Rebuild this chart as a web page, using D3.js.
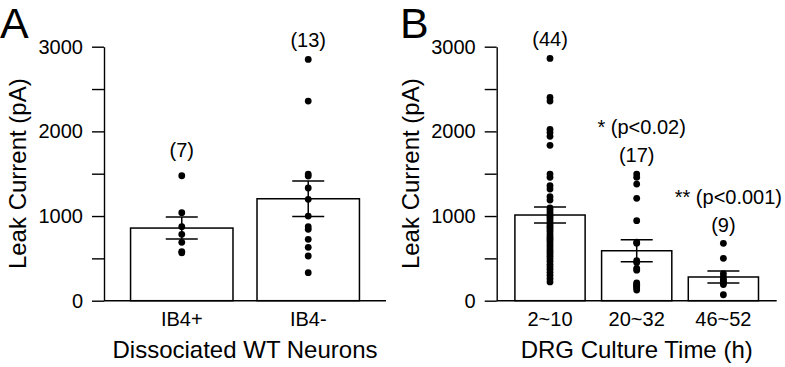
<!DOCTYPE html>
<html>
<head>
<meta charset="utf-8">
<script src="https://d3js.org/d3.v7.min.js"></script>
<style>
    body { margin: 0; background: #fff; }
    text { font-family: "Liberation Sans", Arial, sans-serif; fill: #000; }
</style>
</head>
<body>
<div id="chart"></div>
<script>
// ---- data ----
const groupsA = ["IB4+", "IB4-"];
const meansA = [858, 1204];
const semA = [130, 210];
const pointsA = [
    [1476, 1040, 874, 784, 690, 580, 565],
    [2850, 2358, 1496, 1472, 1331, 1197, 1000, 874, 843, 725, 630, 528, 331]
];

const groupsB = ["2~10", "20~32", "46~52"];
const meansB = [1012, 590, 280];
const semB = [95, 130, 70];
const pointsB = [
    [2862, 2400, 2358, 2024, 1988, 1941, 1835, 1496, 1457, 1358, 1319, 1228, 1189,
     1095, 1070, 1040, 1010, 985, 960, 930, 905, 880, 860, 835, 810, 780, 750, 725,
     700, 670, 640, 610, 585, 555, 525, 495, 465, 430, 400, 370, 335, 300, 260, 222],
    [1496, 1457, 1378, 1209, 945, 693, 680, 472, 450, 382, 360, 210, 195, 180, 165, 150, 125],
    [678, 500, 320, 280, 250, 230, 210, 190, 70]
];
const sigB = ["", "* (p<0.02)", "** (p<0.001)"];

const yTicks = [0, 500, 1000, 1500, 2000, 2500, 3000];

const svg = d3.select("#chart")
    .append("svg")
    .attr("width", 785)
    .attr("height", 367);

const y = d3.scaleLinear()
    .domain([0, 3000])
    .range([300.7, 46.7]);

function drawPanel(opts) {
    let g = svg.append("g");

    const x = d3.scaleBand()
        .domain(opts.groups)
        .range([opts.x0, opts.x1])
        .paddingInner(0.19)
        .paddingOuter(0.21);

    // bars
    g.selectAll(".bar")
        .data(opts.groups)
        .join("rect")
        .attr("x", d => x(d))
        .attr("y", (d, i) => y(opts.means[i]))
        .attr("width", x.bandwidth())
        .attr("height", (d, i) => y(0) - y(opts.means[i]))
        .attr("fill", "white")
        .attr("stroke", "black")
        .attr("stroke-width", 1.5);

    // error bars
    opts.groups.forEach((d, i) => {
        let cx = x(d) + x.bandwidth() / 2;
        let hi = y(opts.means[i] + opts.sem[i]), lo = y(opts.means[i] - opts.sem[i]);
        g.append("line").attr("x1", cx).attr("x2", cx).attr("y1", hi).attr("y2", lo)
            .attr("stroke", "black").attr("stroke-width", 1.5);
        [hi, lo].forEach(yy => {
            g.append("line").attr("x1", cx - 16).attr("x2", cx + 16).attr("y1", yy).attr("y2", yy)
                .attr("stroke", "black").attr("stroke-width", 1.5);
        });
    });

    // individual points
    opts.groups.forEach((d, i) => {
        let cx = x(d) + x.bandwidth() / 2;
        g.selectAll(null)
            .data(opts.points[i])
            .join("circle")
            .attr("cx", cx)
            .attr("cy", v => y(v))
            .attr("r", 3.4)
            .attr("fill", "black");

        // n label above top point
        let top = y(d3.max(opts.points[i])) - opts.lift[i];
        g.append("text")
            .attr("x", cx)
            .attr("y", top)
            .attr("text-anchor", "middle")
            .attr("font-size", 20)
            .text("(" + opts.points[i].length + ")");

        if (opts.sig && opts.sig[i]) {
            g.append("text")
                .attr("x", cx + 5)
                .attr("y", top - 28)
                .attr("text-anchor", "middle")
                .attr("font-size", 20)
                .text(opts.sig[i]);
        }
    });

    // y axis
    let yAxis = g.append("g")
        .attr("transform", `translate(${opts.x0},0)`)
        .call(d3.axisLeft(y)
            .tickValues(yTicks)
            .tickSize(12)
            .tickSizeOuter(0)
            .tickPadding(9)
            .tickFormat(d => d % 1000 === 0 ? d : ""));
    yAxis.selectAll("text").attr("font-size", 20).attr("font-family", "Liberation Sans, Arial, sans-serif");
    yAxis.selectAll("line, path").attr("stroke-width", 1.4);

    // x axis
    let xAxis = g.append("g")
        .attr("transform", `translate(0,${y(0)})`)
        .call(d3.axisBottom(x).tickSize(0).tickSizeOuter(0).tickPadding(11));
    xAxis.select(".domain").attr("d", `M${opts.x0},0H${opts.x1}`).attr("stroke-width", 1.4);
    xAxis.selectAll("text").attr("font-size", 20).attr("font-family", "Liberation Sans, Arial, sans-serif");

    // axis titles
    g.append("text")
        .attr("transform", `translate(${opts.x0 - 78},${(y(0) + y(3000)) / 2}) rotate(-90)`)
        .attr("text-anchor", "middle")
        .attr("font-size", 24)
        .text("Leak Current (pA)");

    g.append("text")
        .attr("x", (opts.x0 + opts.x1) / 2)
        .attr("y", 358)
        .attr("text-anchor", "middle")
        .attr("font-size", 24)
        .text(opts.title);

    // panel letter
    g.append("text")
        .attr("x", opts.letterX)
        .attr("y", 38)
        .attr("font-size", 43)
        .text(opts.letter);
}

drawPanel({
    groups: groupsA, means: meansA, sem: semA, points: pointsA,
    lift: [19, 12], x0: 104, x1: 386,
    title: "Dissociated WT Neurons", letter: "A", letterX: 0
});

drawPanel({
    groups: groupsB, means: meansB, sem: semB, points: pointsB, sig: sigB,
    lift: [12, 12, 11], x0: 496.7, x1: 776.7,
    title: "DRG Culture Time (h)", letter: "B", letterX: 400
});
</script>
</body>
</html>
